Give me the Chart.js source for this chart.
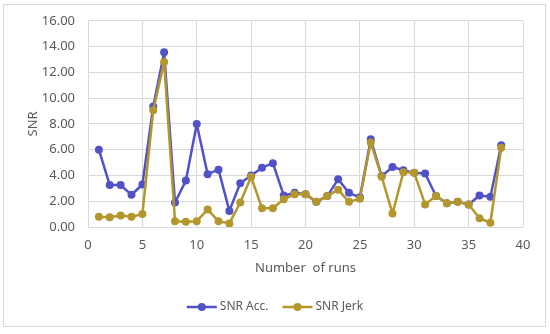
<!DOCTYPE html>
<html>
<head>
<meta charset="utf-8">
<script src="https://cdn.jsdelivr.net/npm/chart.js@4"></script>
<style>
  body { margin: 0; background: #fff; }
  #wrap { width: 550px; height: 334px; }
</style>
</head>
<body>
<div id="wrap"><canvas id="myChart" width="550" height="334"></canvas></div>
<script>
'use strict';

// runs on the x axis
let runs = [];
for (let i = 1; i <= 38; i++) runs.push(i);

let snrAcc = [6.0, 3.25, 3.25, 2.5, 3.3, 9.35, 13.55, 1.9, 3.6, 8.0,
  4.1, 4.45, 1.25, 3.4, 4.0, 4.6, 4.95, 2.45, 2.65, 2.55,
  1.95, 2.4, 3.7, 2.65, 2.3, 6.8, 3.95, 4.65, 4.4, 4.2,
  4.15, 2.4, 1.85, 1.95, 1.75, 2.45, 2.35, 6.35];

let snrJerk = [0.8, 0.75, 0.9, 0.8, 1.0, 9.05, 12.8, 0.45, 0.4, 0.45,
  1.35, 0.45, 0.28, 1.9, 3.9, 1.45, 1.45, 2.15, 2.55, 2.55,
  1.95, 2.4, 2.9, 1.95, 2.2, 6.55, 3.9, 1.05, 4.25, 4.2,
  1.75, 2.4, 1.85, 1.95, 1.75, 0.68, 0.33, 6.15];

let seriesNames = ['SNR Acc.', 'SNR Jerk'];
let xTicks = [0, 5, 10, 15, 20, 25, 30, 35, 40];
let yTicks = [0, 2, 4, 6, 8, 10, 12, 14, 16];

let blue = '#5052C6';
let gold = '#B4972C';
let gridCol = '#d9d9d9';
let textCol = '#595959';
let fontFam = '"Noto Sans", "Open Sans", sans-serif';

function toPoints(vals) {
  let pts = [];
  for (let i = 0; i < runs.length; i++) {
    pts.push({ x: runs[i], y: vals[i] });
  }
  return pts;
}

// frame + excel-like legend drawn by hand
let framePlugin = {
  id: 'frame',
  beforeDraw(chart) {
    let ctx = chart.ctx;
    ctx.save();
    ctx.fillStyle = '#fff';
    ctx.fillRect(0, 0, chart.width, chart.height);
    ctx.strokeStyle = gridCol;
    ctx.lineWidth = 1;
    ctx.strokeRect(3.5, 4.5, 542, 322);
    ctx.restore();
  },
  afterDraw(chart) {
    let ctx = chart.ctx;
    let sets = chart.data.datasets;
    ctx.save();
    ctx.font = '12px ' + fontFam;
    ctx.textBaseline = 'middle';
    let lineLen = 30, gap = 3, spacing = 14;
    let total = 0;
    for (let i = 0; i < sets.length; i++) {
      total += lineLen + gap + ctx.measureText(sets[i].label).width;
      if (i < sets.length - 1) total += spacing;
    }
    let x = chart.width / 2 - total / 2;
    let y = 307;
    for (let i = 0; i < sets.length; i++) {
      let col = sets[i].borderColor;
      ctx.strokeStyle = col;
      ctx.lineWidth = 2.5;
      ctx.beginPath();
      ctx.moveTo(x, y);
      ctx.lineTo(x + lineLen, y);
      ctx.stroke();
      ctx.fillStyle = col;
      ctx.beginPath();
      ctx.arc(x + lineLen / 2, y, 4, 0, Math.PI * 2);
      ctx.fill();
      x += lineLen + gap;
      ctx.fillStyle = textCol;
      ctx.fillText(sets[i].label, x, y);
      x += ctx.measureText(sets[i].label).width + spacing;
    }
    ctx.restore();
  }
};

let canvasElem = document.getElementById('myChart');

new Chart(canvasElem, {
  type: 'line',
  data: {
    datasets: [{
      label: seriesNames[0],
      data: toPoints(snrAcc),
      borderColor: blue,
      backgroundColor: blue,
      borderWidth: 2.5,
      borderJoinStyle: 'round',
      pointRadius: 4,
      pointBorderWidth: 0,
      tension: 0,
      order: 1
    },
    {
      label: seriesNames[1],
      data: toPoints(snrJerk),
      borderColor: gold,
      backgroundColor: gold,
      borderWidth: 2.5,
      borderJoinStyle: 'round',
      pointRadius: 4,
      pointBorderWidth: 0,
      tension: 0,
      order: 0
    }]
  },
  options: {
    responsive: false,
    animation: false,
    layout: { padding: { left: 0, right: 27, top: 20, bottom: 0 } },
    plugins: {
      legend: { display: false },
      tooltip: { enabled: false }
    },
    scales: {
      x: {
        type: 'linear',
        min: 0,
        max: 40,
        afterBuildTicks: (s) => { s.ticks = xTicks.map(v => ({ value: v })); },
        afterFit: (s) => { s.height = 107; },
        grid: { color: gridCol, drawTicks: false },
        border: { display: false },
        ticks: {
          color: textCol,
          font: { family: fontFam, size: 13 },
          padding: 10,
          maxRotation: 0
        },
        title: {
          display: true,
          text: 'Number  of runs',
          color: textCol,
          font: { family: fontFam, size: 13 },
          padding: { top: 0, bottom: 58 }
        }
      },
      y: {
        min: 0,
        max: 16,
        afterBuildTicks: (s) => { s.ticks = yTicks.map(v => ({ value: v })); },
        afterFit: (s) => { s.width = 88; },
        grid: { color: gridCol, drawTicks: false },
        border: { display: false },
        ticks: {
          color: textCol,
          font: { family: fontFam, size: 13 },
          padding: 13,
          callback: (v) => v.toFixed(2)
        },
        title: {
          display: true,
          text: 'SNR',
          color: textCol,
          font: { family: fontFam, size: 13 },
          padding: { top: 25, bottom: 0 }
        }
      }
    }
  },
  plugins: [framePlugin]
});
</script>
</body>
</html>
